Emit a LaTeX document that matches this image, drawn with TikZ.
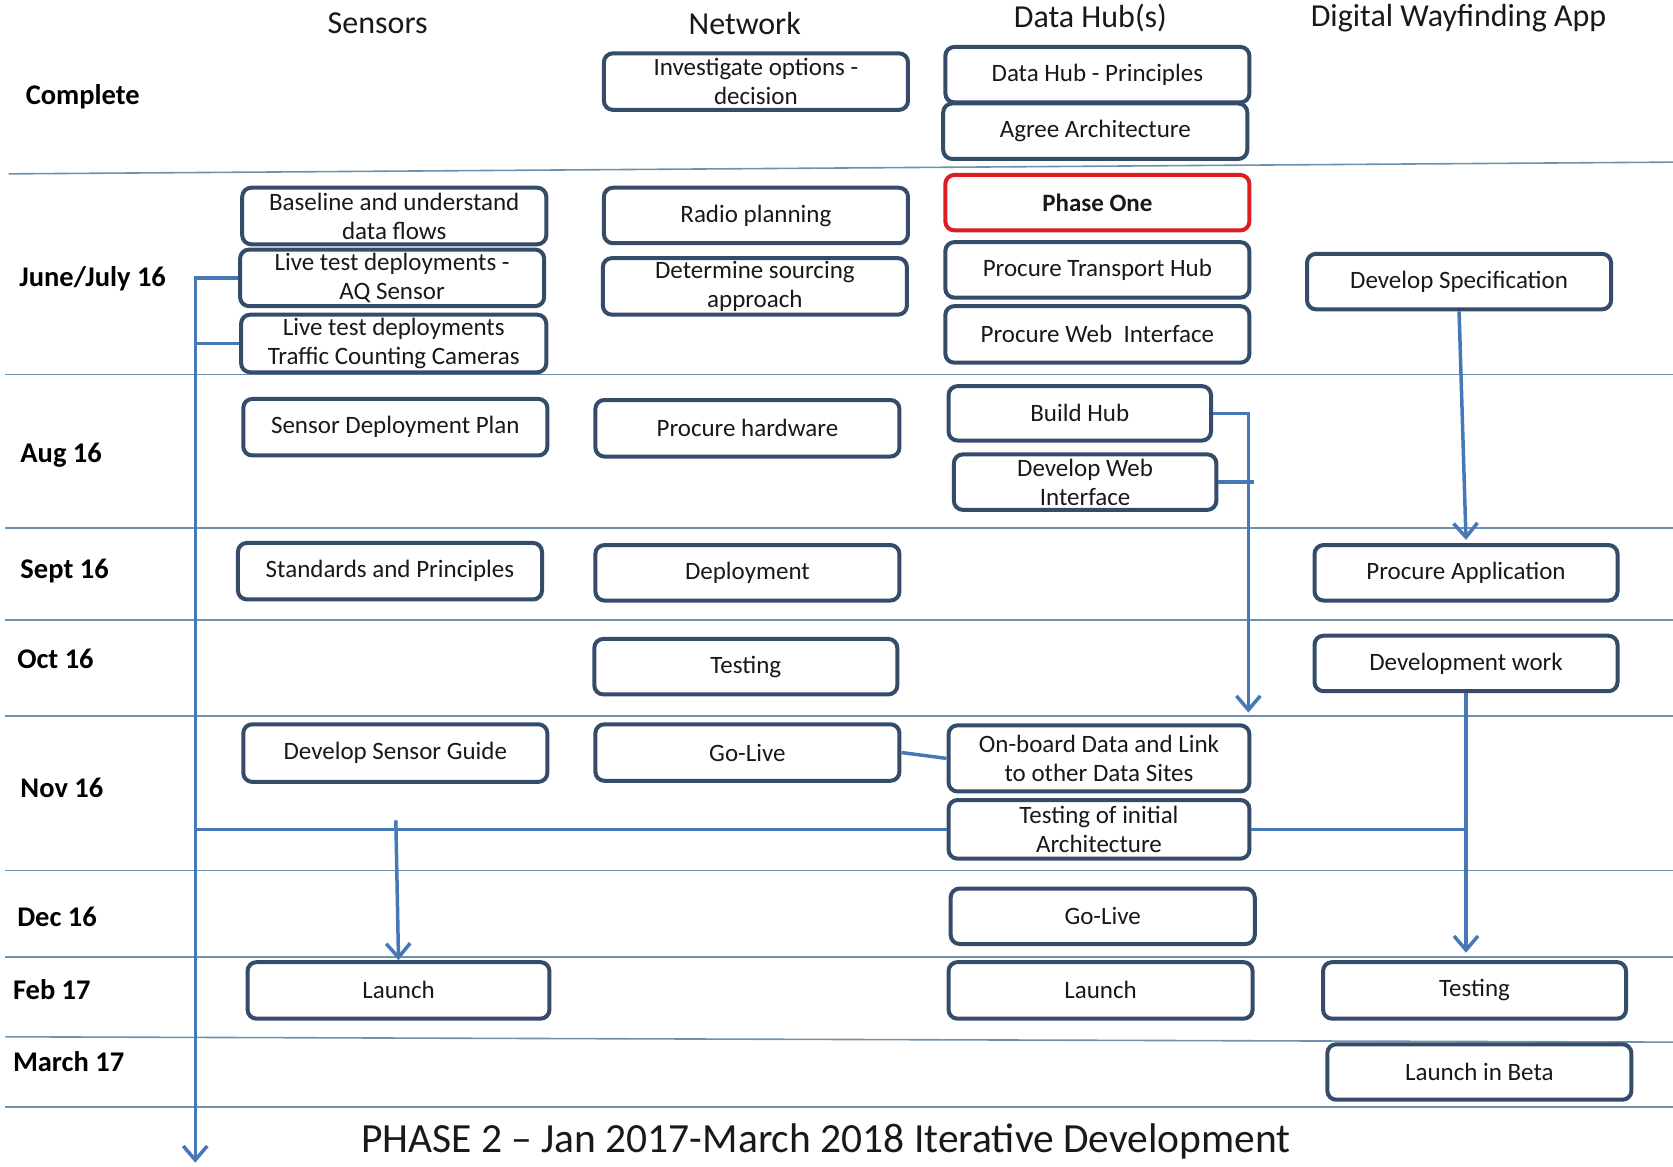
\documentclass[tikz,border=0pt]{standalone}
\usepackage{fontspec}
\setmainfont{Carlito}
\usetikzlibrary{arrows.meta,fit,calc}
\definecolor{boxblue}{RGB}{52,75,105}
\definecolor{connblue}{RGB}{70,120,182}
\definecolor{sepblue}{RGB}{110,145,175}
\definecolor{phasered}{RGB}{220,30,35}
\definecolor{txtgrey}{RGB}{25,25,25}
\newcommand\bx[7][box]{\node[#1,fit={(#3,#4) (#5,#6)}] (#2) {};
  \node[btxt] (#2t) at (#2.center) {#7};}
\begin{document}
\begin{tikzpicture}[x=1.0670pt,y=-1.0667pt,
  box/.style={draw=boxblue,line width=4pt,rounded corners=9pt,fill=white,inner sep=0pt},
  redbox/.style={box,draw=phasered},
  btxt/.style={font=\fontsize{25}{29}\selectfont,align=center,text=txtgrey,inner sep=0pt},
  rowlab/.style={font=\fontsize{28.5}{32}\selectfont\bfseries,anchor=west,inner sep=0pt,text=black},
  colhead/.style={font=\fontsize{32}{36}\selectfont,inner sep=0pt,text=txtgrey},
  conn/.style={draw=connblue,line width=3.5pt},
  arr/.style={conn,-{Straight Barb[length=14pt,width=24pt]}},
  sepline/.style={draw=sepblue,line width=1.6pt}]
\useasboundingbox (0,0) rectangle (1568,1094);
\fill[white] (0,0) rectangle (1568,1094);

% separator lines
\draw[sepline] (8,163) -- (1568,152);
\draw[sepline] (5,351) -- (1568,351);
\draw[sepline] (5,495) -- (1568,495);
\draw[sepline] (5,581) -- (1568,581);
\draw[sepline] (5,671) -- (1568,671);
\draw[sepline] (5,816) -- (1568,816);
\draw[sepline] (5,897) -- (1568,897);
\draw[sepline] (5,972) -- (1568,977);
\draw[sepline] (5,1038) -- (1568,1038);

% column headers
\node[colhead] (hS) at (354,22) {Sensors};
\node[colhead] (hN) at (698,22) {Network};
\node[colhead] (hD) at (1022,17) {Data Hub(s)};
\node[colhead] (hA) at (1367,17) {Digital Wayfinding App};

% row labels
\node[rowlab] (r1) at (24,91) {Complete};
\node[rowlab] (r2) at (18,261) {June/July 16};
\node[rowlab] (r3) at (19,427) {Aug 16};
\node[rowlab] (r4) at (19,535) {Sept 16};
\node[rowlab] (r5) at (16,618) {Oct 16};
\node[rowlab] (r6) at (19,739) {Nov 16};
\node[rowlab] (r7) at (16,860) {Dec 16};
\node[rowlab] (r8) at (12,928) {Feb 17};
\node[rowlab] (r9) at (12,995) {March 17};

% Sensors
\bx{S1}{227}{176}{512}{229}{Baseline and understand\\data flows}
\bx{S2}{225}{234}{510}{287}{Live test deployments -\\AQ Sensor}
\bx{S3}{226}{295}{512}{349}{Live test deployments\\Traffic Counting Cameras}
\bx{S4}{228}{374}{513}{427}{Sensor Deployment Plan}
\bx{S5}{223}{509}{508}{562}{Standards and Principles}
\bx{S6}{228}{679}{513}{733}{Develop Sensor Guide}
\bx{S7}{232}{902}{515}{955}{Launch}

% Network
\bx{N1}{566}{50}{851}{103}{Investigate options -\\decision}
\bx{N2}{566}{176}{851}{228}{Radio planning}
\bx{N3}{565}{242}{850}{295}{Determine sourcing\\approach}
\bx{N4}{558}{375}{843}{428}{Procure hardware}
\bx{N5}{558}{511}{843}{563}{Deployment}
\bx{N6}{557}{599}{841}{651}{Testing}
\bx{N7}{558}{679}{843}{732}{Go-Live}

% Data Hub(s)
\bx{D1}{886}{44}{1171}{96}{Data Hub - Principles}
\bx{D2}{884}{97}{1169}{149}{Agree Architecture}
\bx[redbox]{D3}{886}{164}{1171}{216}{\textbf{Phase One}}
\bx{D4}{886}{227}{1171}{279}{Procure Transport Hub}
\bx{D5}{886}{287}{1171}{340}{Procure Web\ \ Interface}
\bx{D6}{889}{362}{1135}{413}{Build Hub}
\bx{D7}{894}{426}{1140}{478}{Develop Web\\Interface}
\bx{D8}{889}{680}{1171}{742}{On-board Data and Link\\to other Data Sites}
\bx{D9}{889}{750}{1171}{805}{Testing of initial\\Architecture}
\bx{D10}{891}{833}{1176}{885}{Go-Live}
\bx{D11}{889}{902}{1174}{955}{Launch}

% Digital Wayfinding App
\bx{A1}{1225}{238}{1510}{290}{Develop Specification}
\bx{A2}{1232}{511}{1516}{563}{Procure Application}
\bx{A3}{1232}{596}{1516}{648}{Development work}
\bx{A4}{1240}{902}{1524}{955}{Testing}
\bx{A5}{1244}{979}{1529}{1031}{Launch in Beta}

% bottom text
\node[font=\fontsize{41.5}{46}\selectfont,inner sep=0pt,text=txtgrey] (phase2) at (774,1070) {PHASE 2 – Jan 2017-March 2018 Iterative Development};

% connectors
\coordinate (spinebot) at (183,1090);
\coordinate (hubarr) at (1170,668);
\coordinate (s7start) at (371,769);
\draw[arr] (S2.west) -| (spinebot);
\draw[conn] (S3.west) -- (S3.west -| spinebot);
\draw[conn] (D9.west) -- (D9.west -| spinebot);
\draw[conn] (D9.east) -- (D9.east -| A3.south);
\draw[arr] (s7start) -- (S7.north);
\draw[arr] (D6.east) -| (hubarr);
\draw[conn] (D7.east) -- ($(D7.east -| hubarr)+(5,0)$);
\draw[conn] (N7.east) -- (D8.west);
\draw[arr] (A1.south) -- ($(A2.north)+(0,-3)$);
\draw[arr] (A3.south) -- ($(A3.south |- A4.north)+(0,-7)$);
\end{tikzpicture}
\end{document}
